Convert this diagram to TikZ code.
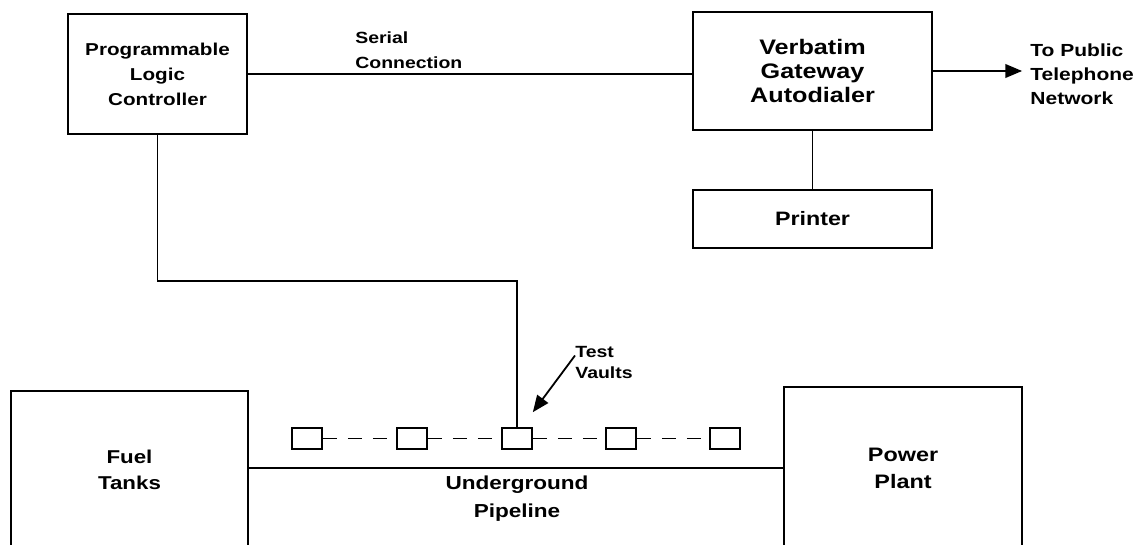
\documentclass[tikz,border=0pt]{standalone}
\usepackage{fontspec}
\setmainfont{Liberation Sans}[FakeStretch=1.2]
\usepackage{tikz}
\usetikzlibrary{arrows,calc}
\newcommand{\txt}[2]{\bfseries\fontsize{#1}{#2}\selectfont}
\tikzset{
  unit/.style={draw, line width=0.9pt, align=center, inner sep=0pt},
  vault/.style={draw, line width=0.9pt, minimum width=15pt, minimum height=10.5pt, inner sep=0pt},
  note/.style={align=left, inner sep=0pt},
  link/.style={line width=0.9pt},
}

\begin{document}
\begin{tikzpicture}[x=0.5pt,y=-0.5pt]
\useasboundingbox (0,0) rectangle (1143,546);
\clip (0,0) rectangle (1143,544);
\node[unit, minimum width=89.5pt, minimum height=60pt, font=\txt{8.6}{12.5}] (plc) at (157.5,74) {Programmable\\Logic\\Controller};
\node[unit, minimum width=119.5pt, minimum height=59pt, font=\txt{10.5}{12}] (verb) at (812.5,71) {Verbatim\\Gateway\\Autodialer};
\node[unit, minimum width=119.5pt, minimum height=29pt, font=\txt{9.7}{12}] (prn) at (812.5,219) {Printer};
\node[unit, minimum width=118.5pt, minimum height=79pt, font=\txt{9.3}{13}] (fuel) at (129.5,470) {Fuel\\Tanks};
\node[unit, minimum width=119pt, minimum height=81pt, font=\txt{9.75}{13.5}] (power) at (903,468) {Power\\Plant};
\foreach \x [count=\i] in {307,412,517,621,725}
  \node[vault] (v\i) at (\x,438.5) {};
\node[note, anchor=west, font=\txt{8.1}{12.5}] (serial) at (355,50) {Serial\\Connection};
\node[note, anchor=west, font=\txt{8.75}{12}] (tpn) at (1030,74) {To Public\\Telephone\\Network};
\node[note, anchor=west, font=\txt{8.1}{10.5}] (tv) at (575,362.5) {Test\\Vaults};
\node[align=center, inner sep=0pt, font=\txt{9.4}{14}] (pipe) at (517,499) {Underground\\Pipeline};
\coordinate (tel) at (1022,71);
\coordinate (turn) at (157.5,281);

\draw[link] (plc.east) -- (plc.east -| verb.west);
\draw[link] (verb.south) -- (prn.north);
\draw[link, -triangle 45] (verb.east) -- (tel);
\draw[link] (plc.south) -- (turn) -| (v3.north);
\foreach \a/\b in {1/2,2/3,3/4,4/5}
  \draw[line width=0.5pt, dash pattern=on 7pt off 5.5pt] (v\a) -- (v\b);
\draw[link] (power.west -| fuel.east) -- (power.west);
\draw[link, -triangle 45] ([yshift=3.5pt]tv.west) -- ([yshift=7.5pt]v3.north east);
\end{tikzpicture}
\end{document}
